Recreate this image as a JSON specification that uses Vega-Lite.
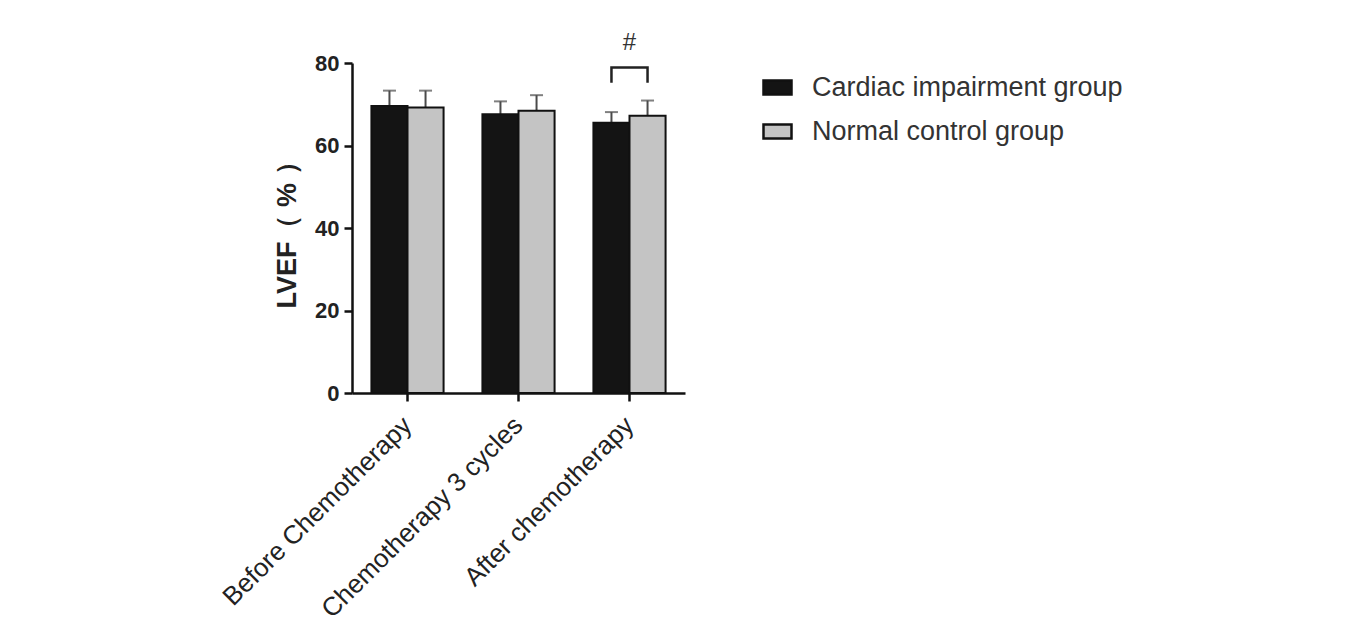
{
  "$schema": "https://vega.github.io/schema/vega-lite/v6.json",
  "autosize": "none",
  "width": 333,
  "height": 330,
  "padding": {"left": 352, "top": 63, "right": 660, "bottom": 229},
  "background": "white",
  "config": {
    "font": "Liberation Sans",
    "view": {"stroke": null},
    "axis": {"grid": false, "domainColor": "#111", "domainWidth": 2.5, "tickColor": "#111", "tickWidth": 2.5, "tickSize": 8, "labelColor": "#222", "labelLimit": 0}
  },
  "datasets": {
    "bars": [
      {"category": "Before Chemotherapy", "group": "Cardiac impairment group", "mean": 69.6, "upper": 73.3},
      {"category": "Before Chemotherapy", "group": "Normal control group", "mean": 69.2, "upper": 73.3},
      {"category": "Chemotherapy 3 cycles", "group": "Cardiac impairment group", "mean": 67.6, "upper": 70.7},
      {"category": "Chemotherapy 3 cycles", "group": "Normal control group", "mean": 68.4, "upper": 72.2},
      {"category": "After chemotherapy", "group": "Cardiac impairment group", "mean": 65.5, "upper": 68.1},
      {"category": "After chemotherapy", "group": "Normal control group", "mean": 67.2, "upper": 70.9}
    ],
    "bracket": [
      {"category": "After chemotherapy", "group": "Cardiac impairment group", "v": 75.2, "o": 1},
      {"category": "After chemotherapy", "group": "Cardiac impairment group", "v": 78.9, "o": 2},
      {"category": "After chemotherapy", "group": "Normal control group", "v": 78.9, "o": 3},
      {"category": "After chemotherapy", "group": "Normal control group", "v": 75.2, "o": 4}
    ],
    "sig": [
      {"category": "After chemotherapy", "v": 84.8, "label": "#"}
    ]
  },
  "encoding": {
    "x": {
      "field": "category", "type": "nominal",
      "sort": ["Before Chemotherapy", "Chemotherapy 3 cycles", "After chemotherapy"],
      "scale": {"paddingInner": 0.35, "paddingOuter": 0.175},
      "axis": {"title": null, "labelAngle": -45, "labelFontSize": 26, "labelPadding": 20, "labelAlign": "right", "labelBaseline": "middle"}
    }
  },
  "layer": [
    {
      "data": {"name": "bars"},
      "mark": {"type": "rule", "color": "#4a4a4a", "strokeWidth": 2},
      "encoding": {
        "xOffset": {"field": "group", "type": "nominal"},
        "y": {"field": "mean", "type": "quantitative"},
        "y2": {"field": "upper"}
      }
    },
    {
      "data": {"name": "bars"},
      "mark": {"type": "tick", "orient": "horizontal", "color": "#4a4a4a", "size": 13, "thickness": 2},
      "encoding": {
        "xOffset": {"field": "group", "type": "nominal"},
        "y": {"field": "upper", "type": "quantitative"}
      }
    },
    {
      "data": {"name": "bars"},
      "mark": {"type": "bar", "stroke": "#111", "strokeWidth": 2},
      "encoding": {
        "xOffset": {"field": "group", "type": "nominal"},
        "y": {
          "field": "mean", "type": "quantitative",
          "scale": {"domain": [0, 80]},
          "axis": {"values": [0, 20, 40, 60, 80], "title": "LVEF（ % ）", "titleFontSize": 27, "titleFontWeight": "bold", "titleColor": "#222", "titlePadding": 13, "labelFontSize": 22, "labelFontWeight": "bold", "labelPadding": 5}
        },
        "color": {
          "field": "group", "type": "nominal",
          "scale": {"range": ["#141414", "#c4c4c4"]},
          "legend": {
            "title": null, "orient": "none", "legendX": 410, "legendY": 9, "padding": 0,
            "symbolType": "M-1,-0.5H1V0.5H-1Z", "symbolSize": 784, "symbolStrokeColor": "#111", "symbolStrokeWidth": 2.5,
            "labelFontSize": 27, "labelColor": "#333", "labelOffset": 19, "rowPadding": 15, "labelLimit": 0
          }
        }
      }
    },
    {
      "data": {"name": "bracket"},
      "mark": {"type": "line", "color": "#222", "strokeWidth": 2.5},
      "encoding": {
        "xOffset": {"field": "group", "type": "nominal"},
        "y": {"field": "v", "type": "quantitative"},
        "order": {"field": "o"}
      }
    },
    {
      "data": {"name": "sig"},
      "mark": {"type": "text", "fontSize": 24, "color": "#333", "baseline": "middle"},
      "encoding": {
        "y": {"field": "v", "type": "quantitative"},
        "text": {"field": "label"}
      }
    }
  ]
}
